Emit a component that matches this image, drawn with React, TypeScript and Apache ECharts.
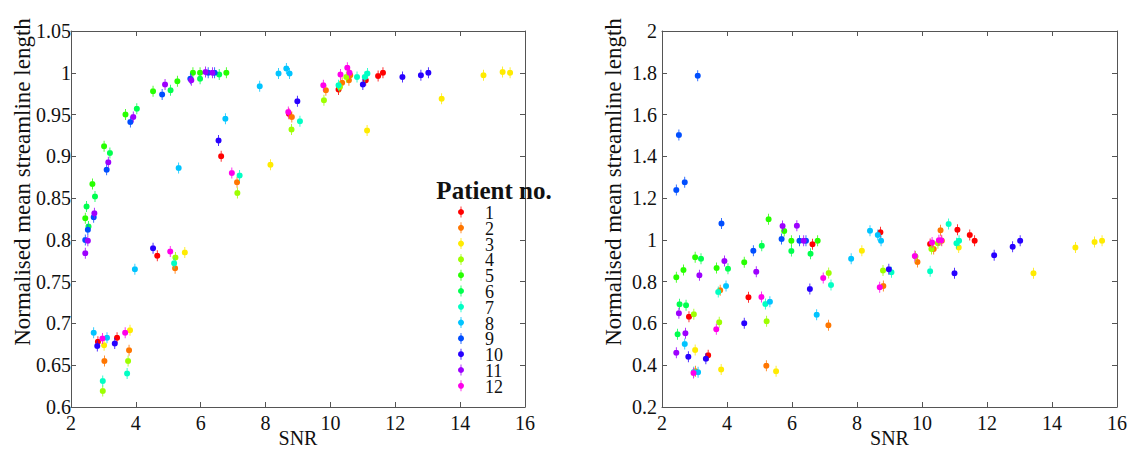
import React, { useEffect, useRef } from "react";
import * as echarts from "echarts";

// Patient labels and colours (hsv-like colormap)
const PATIENTS = ["1", "2", "3", "4", "5", "6", "7", "8", "9", "10", "11", "12"];
const COLORS = [
  "#ff0000", "#ff7600", "#ffeb00", "#9dff00", "#27ff00", "#00ff4e",
  "#00ffc4", "#00c4ff", "#004eff", "#2700ff", "#9d00ff", "#ff00eb",
];

// Each row: [SNR, left-panel value, right-panel value]
const p1 = [[2.83, 0.678, 0.632], [3.42, 0.683, 0.448], [4.66, 0.781, 0.725], [6.63, 0.9, 0.979], [8.72, 0.951, 1.036], [10.25, 0.98, 0.98], [11.09, 0.991, 1.049], [11.47, 0.996, 1.023], [11.62, 1.0, 0.996]];
const p2 = [[3.03, 0.655, 0.371], [3.79, 0.668, 0.759], [5.21, 0.766, 0.398], [7.12, 0.869, 0.591], [8.81, 0.947, 0.779], [9.86, 0.979, 0.894], [10.36, 0.988, 0.956], [10.57, 0.991, 1.046], [10.61, 0.997, 0.996]];
const p3 = [[3.02, 0.674, 0.473], [3.82, 0.692, 0.379], [5.51, 0.785, 0.371], [8.15, 0.89, 0.948], [11.13, 0.931, 0.963], [13.43, 0.969, 0.84], [14.72, 0.997, 0.963], [15.31, 1.001, 0.99], [15.54, 1.0, 0.996]];
const p4 = [[2.98, 0.619, 0.644], [3.76, 0.655, 0.606], [5.22, 0.779, 0.61], [7.13, 0.856, 0.842], [8.8, 0.932, 0.853], [9.8, 0.967, 0.92], [10.29, 0.983, 0.956], [10.49, 0.995, 0.984]];
const p5 = [[2.44, 0.826, 0.821], [2.66, 0.867, 0.856], [3.02, 0.912, 0.917], [3.68, 0.95, 0.865], [4.53, 0.978, 0.893], [5.28, 0.99, 1.099], [5.76, 1.0, 1.043], [5.98, 1.0, 0.996], [6.79, 1.0, 0.996]];
const p6 = [[2.48, 0.84, 0.548], [2.54, 0.816, 0.692], [2.74, 0.852, 0.687], [3.2, 0.904, 0.91], [4.03, 0.957, 0.862], [5.07, 0.979, 0.972], [5.98, 0.993, 0.947], [6.57, 0.998, 0.934]];
const p7 = [[2.98, 0.631, 0.368], [3.73, 0.64, 0.751], [5.18, 0.772, 0.693], [7.2, 0.877, 0.784], [9.06, 0.942, 0.845], [10.25, 0.985, 0.85], [10.82, 0.995, 1.076], [11.06, 0.995, 0.984], [11.14, 0.999, 0.996]];
const p8 = [[2.7, 0.689, 0.502], [3.11, 0.683, 0.366], [3.97, 0.765, 0.779], [5.32, 0.886, 0.704], [6.76, 0.945, 0.642], [7.82, 0.984, 0.91], [8.4, 0.999, 1.044], [8.64, 1.005, 1.023], [8.74, 0.999, 0.996]];
const p9 = [[2.44, 0.8, 1.239], [2.52, 0.812, 1.502], [2.7, 0.827, 1.276], [3.1, 0.884, 1.786], [3.83, 0.941, 1.079], [4.81, 0.974, 0.948], [5.68, 0.993, 1.004], [6.23, 1.0, 0.996], [6.43, 1.0, 0.996]];
const p10 = [[2.81, 0.673, 0.441], [3.35, 0.676, 0.431], [4.53, 0.79, 0.601], [6.55, 0.919, 0.765], [8.98, 0.966, 0.859], [11.0, 0.986, 0.84], [12.22, 0.995, 0.926], [12.79, 0.997, 0.967], [13.02, 1.0, 0.996]];
const p11 = [[2.44, 0.784, 0.46], [2.52, 0.799, 0.649], [2.72, 0.832, 0.553], [3.15, 0.893, 0.831], [3.92, 0.947, 0.899], [4.9, 0.986, 0.848], [5.71, 0.991, 1.067], [6.15, 1.001, 1.068], [6.36, 1.0, 0.996]];
const p12 = [[2.97, 0.682, 0.363], [3.67, 0.689, 0.572], [5.06, 0.786, 0.727], [6.96, 0.88, 0.818], [8.7, 0.953, 0.773], [9.78, 0.985, 0.923], [10.31, 0.998, 0.987], [10.52, 1.006, 0.998], [10.59, 1.0, 0.998]];
const PATIENT_ROWS = [p1, p2, p3, p4, p5, p6, p7, p8, p9, p10, p11, p12];

// Axis ranges [min, max, interval]
const X_RANGE = [2, 16, 2];
const LEFT_Y_RANGE = [0.6, 1.05, 0.05];
const RIGHT_Y_RANGE = [0.2, 2, 0.2];

const Y_LABEL = "Normalised mean streamline length";
const X_LABEL = "SNR";
const LEGEND_TITLE = "Patient no.";

const FONT = '"Liberation Serif", "DejaVu Serif", serif';
const AXIS_COLOR = "#555";
const SYMBOL = "path://M3,2.5A3,3,0,1,1,3,8.5A3,3,0,1,1,3,2.5ZM2.6,0H3.4V11H2.6Z";

export default function App() {
  const ref = useRef<HTMLDivElement>(null);

  useEffect(() => {
    if (!ref.current) return;
    const chart = echarts.init(ref.current, undefined, { renderer: "svg" });

    const axisLine = { show: true, onZero: false, lineStyle: { color: AXIS_COLOR, width: 1 } };
    const tick = { show: true, inside: true, length: 5, lineStyle: { color: AXIS_COLOR } };
    const label = { color: "#111", fontFamily: FONT, fontSize: 20 };

    const xAx = (gridIndex: number, position: string, main: boolean) => ({
      type: "value",
      gridIndex,
      position,
      min: X_RANGE[0],
      max: X_RANGE[1],
      interval: X_RANGE[2],
      axisLine,
      axisTick: tick,
      splitLine: { show: false },
      axisLabel: main ? { ...label, margin: 6 } : { show: false },
      name: main ? X_LABEL : "",
      nameLocation: "middle",
      nameGap: 22,
      nameMoveOverlap: false,
      nameTextStyle: { color: "#111", fontFamily: FONT, fontSize: 20, lineHeight: 18 },
    });
    const yAx = (gridIndex: number, position: string, main: boolean, r: number[], margin: number) => ({
      type: "value",
      gridIndex,
      position,
      min: r[0],
      max: r[1],
      interval: r[2],
      axisLine,
      axisTick: tick,
      splitLine: { show: false },
      axisLabel: main ? { ...label, margin } : { show: false },
    });

    const series: any[] = [];
    PATIENT_ROWS.forEach((rows, i) => {
      series.push({
        name: PATIENTS[i],
        type: "scatter",
        xAxisIndex: 0,
        yAxisIndex: 0,
        symbol: SYMBOL,
        symbolSize: [6, 11],
        itemStyle: { color: COLORS[i], opacity: 1 },
        data: rows.map((r) => [r[0], r[1]]),
      });
      series.push({
        name: PATIENTS[i],
        type: "scatter",
        xAxisIndex: 2,
        yAxisIndex: 2,
        symbol: SYMBOL,
        symbolSize: [6, 11],
        itemStyle: { color: COLORS[i], opacity: 1 },
        data: rows.map((r) => [r[0], r[2]]),
      });
    });

    // Hand-built legend (tight row spacing as in the reference)
    const legendItems: any[] = [];
    PATIENTS.forEach((name, i) => {
      const y = 212 + i * 15.8;
      legendItems.push({
        type: "group",
        z: 100,
        children: [
          { type: "rect", shape: { x: 460.6, y: y - 5.5, width: 0.8, height: 11 }, style: { fill: COLORS[i] } },
          { type: "circle", shape: { cx: 461, cy: y, r: 3 }, style: { fill: COLORS[i] } },
          {
            type: "text",
            x: 485,
            y: y + 1,
            style: {
              text: name,
              font: `18px ${FONT}`,
              lineHeight: 15,
              fill: "#111",
              align: "left",
              verticalAlign: "middle",
            },
          },
        ],
      });
    });

    chart.setOption({
      animation: false,
      backgroundColor: "#fff",
      grid: [
        { left: 71, top: 31, width: 454, height: 376, outerBoundsMode: "none", containLabel: false },
        { left: 662, top: 31, width: 455, height: 376, outerBoundsMode: "none", containLabel: false },
      ],
      xAxis: [xAx(0, "bottom", true), xAx(0, "top", false), xAx(1, "bottom", true), xAx(1, "top", false)],
      yAxis: [
        yAx(0, "left", true, LEFT_Y_RANGE, 0),
        yAx(0, "right", false, LEFT_Y_RANGE, 0),
        yAx(1, "left", true, RIGHT_Y_RANGE, 5),
        yAx(1, "right", false, RIGHT_Y_RANGE, 0),
      ],
      graphic: [
        {
          type: "text",
          x: 22,
          y: 182,
          rotation: Math.PI / 2,
          style: { text: Y_LABEL, font: `23px ${FONT}`, fill: "#111", align: "center", verticalAlign: "middle" },
        },
        {
          type: "text",
          x: 613,
          y: 182,
          rotation: Math.PI / 2,
          style: { text: Y_LABEL, font: `23px ${FONT}`, fill: "#111", align: "center", verticalAlign: "middle" },
        },
        {
          type: "text",
          x: 494,
          y: 190,
          z: 100,
          style: { text: LEGEND_TITLE, font: `bold 25px ${FONT}`, fill: "#111", align: "center", verticalAlign: "middle" },
        },
        ...legendItems,
      ],
      series,
    });

    return () => chart.dispose();
  }, []);

  return (
    <div
      ref={ref}
      style={{ position: "fixed", left: 0, top: 0, width: 1137, height: 452, background: "#fff" }}
    />
  );
}
